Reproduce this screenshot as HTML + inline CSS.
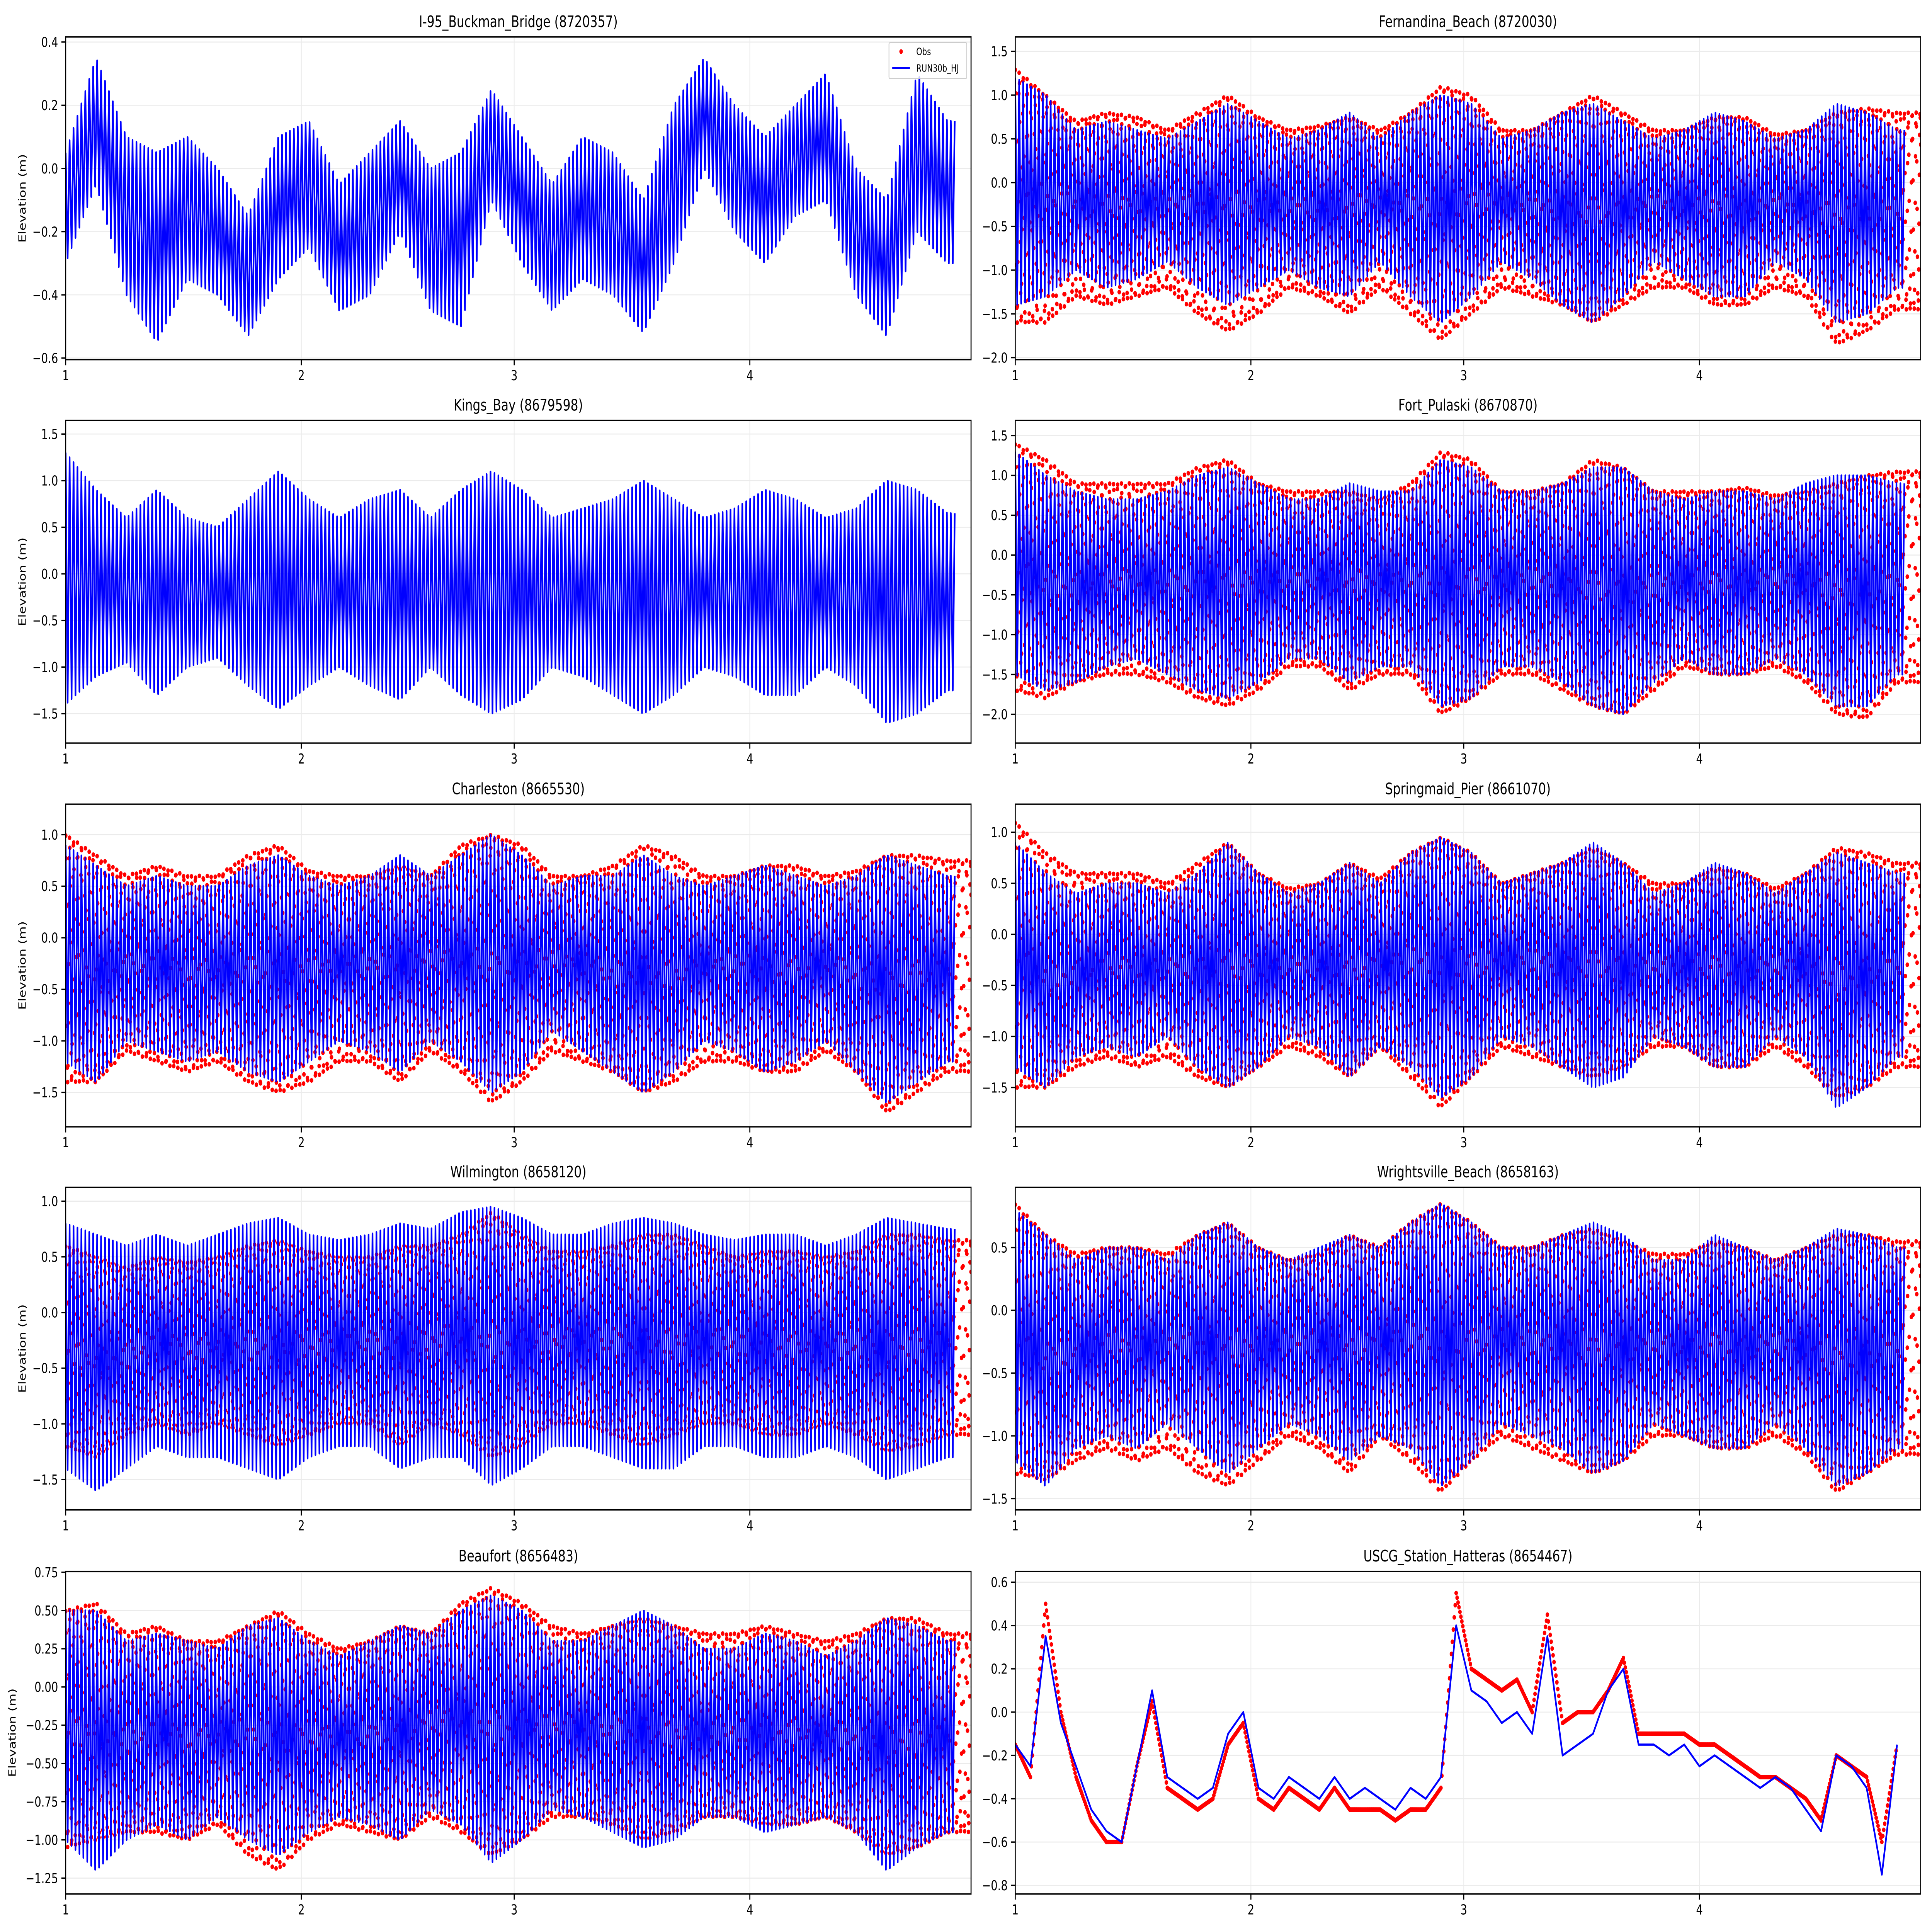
<!DOCTYPE html>
<html><head><meta charset="utf-8">
<style>
html,body{margin:0;padding:0;background:#fff;width:100%;height:100%;overflow:hidden;}
svg{display:block;width:100vw;height:100vh;font-family:"DejaVu Sans","Liberation Sans",sans-serif;}
</style></head>
<body>
<svg id="fig" xmlns="http://www.w3.org/2000/svg" viewBox="0 0 7650 5850" preserveAspectRatio="none">
<rect x="0" y="0" width="7650" height="5850" fill="#fff"/>
</svg>
<script>
// ---------- data (each tidal entry = high / low water envelope at 4-day spacing, metres) ----------
const xTickDays = [0, 31, 59, 90];
const xTickLabels = ["1", "2", "3", "4"];

const buckmanHi = [0.05,0.35,0.1,0.05,0.1,0.0,-0.15,0.1,0.15,-0.05,0.05,0.15,0.0,0.05,0.25,0.1,-0.05,0.1,0.05,-0.1,0.2,0.35,0.2,0.1,0.2,0.3,0.0,-0.1,0.3,0.15];
const buckmanLo = [-0.3,-0.05,-0.4,-0.55,-0.35,-0.4,-0.53,-0.35,-0.25,-0.45,-0.4,-0.2,-0.45,-0.5,-0.1,-0.3,-0.45,-0.35,-0.4,-0.52,-0.3,0.0,-0.2,-0.3,-0.15,-0.1,-0.4,-0.53,-0.2,-0.3];
const buckmanTicks = [-0.6,-0.4,-0.2,0.0,0.2,0.4];

const kingsHi = [1.3,0.9,0.6,0.9,0.6,0.5,0.8,1.1,0.8,0.6,0.8,0.9,0.6,0.9,1.1,0.9,0.6,0.7,0.8,1.0,0.8,0.6,0.7,0.9,0.8,0.6,0.7,1.0,0.9,0.65];
const kingsLo = [-1.4,-1.1,-0.95,-1.3,-1.0,-0.9,-1.2,-1.45,-1.2,-1.0,-1.2,-1.35,-1.0,-1.3,-1.5,-1.35,-1.0,-1.1,-1.3,-1.5,-1.3,-1.0,-1.1,-1.3,-1.3,-1.0,-1.2,-1.6,-1.5,-1.25];
const kingsTicks = [-1.5,-1.0,-0.5,0.0,0.5,1.0,1.5];

const fernHi = [1.2,1.0,0.6,0.7,0.6,0.5,0.7,0.9,0.7,0.5,0.6,0.8,0.5,0.8,1.0,0.9,0.5,0.6,0.8,0.9,0.7,0.5,0.6,0.8,0.7,0.5,0.6,0.9,0.8,0.6];
const fernLo = [-1.4,-1.3,-1.0,-1.2,-1.1,-0.9,-1.2,-1.4,-1.2,-1.0,-1.2,-1.3,-0.9,-1.3,-1.6,-1.3,-0.9,-1.1,-1.4,-1.6,-1.3,-0.9,-1.1,-1.3,-1.3,-0.9,-1.1,-1.6,-1.5,-1.2];
const fernObsHi = [1.3,1.0,0.7,0.8,0.75,0.6,0.8,1.0,0.75,0.6,0.65,0.75,0.6,0.8,1.1,1.0,0.6,0.6,0.8,1.0,0.8,0.6,0.6,0.75,0.75,0.55,0.6,0.8,0.85,0.8];
const fernObsLo = [-1.6,-1.6,-1.3,-1.4,-1.3,-1.2,-1.5,-1.7,-1.5,-1.2,-1.3,-1.5,-1.2,-1.5,-1.8,-1.5,-1.2,-1.3,-1.4,-1.6,-1.4,-1.2,-1.2,-1.4,-1.4,-1.2,-1.3,-1.85,-1.7,-1.45];
const fernTicks = [-2.0,-1.5,-1.0,-0.5,0.0,0.5,1.0,1.5];

const pulaskiHi = [1.3,1.0,0.8,0.7,0.7,0.8,1.0,1.1,0.9,0.7,0.7,0.9,0.8,0.8,1.2,1.1,0.8,0.8,0.9,1.1,1.1,0.8,0.7,0.8,0.8,0.7,0.9,1.0,1.0,0.9];
const pulaskiLo = [-1.5,-1.7,-1.6,-1.4,-1.3,-1.5,-1.7,-1.8,-1.6,-1.3,-1.3,-1.6,-1.4,-1.4,-1.9,-1.8,-1.4,-1.4,-1.6,-1.9,-2.0,-1.6,-1.3,-1.5,-1.5,-1.3,-1.5,-1.9,-1.9,-1.5];
const pulaskiObsHi = [1.4,1.2,0.9,0.9,0.9,0.9,1.1,1.2,0.9,0.8,0.8,0.8,0.7,0.9,1.3,1.2,0.8,0.8,0.9,1.2,1.1,0.8,0.8,0.8,0.85,0.75,0.8,0.9,1.0,1.05];
const pulaskiObsLo = [-1.7,-1.8,-1.6,-1.5,-1.5,-1.6,-1.8,-1.9,-1.7,-1.4,-1.4,-1.7,-1.5,-1.5,-2.0,-1.8,-1.5,-1.5,-1.7,-1.9,-2.0,-1.7,-1.4,-1.5,-1.5,-1.4,-1.6,-2.0,-2.05,-1.6];
const pulaskiTicks = [-2.0,-1.5,-1.0,-0.5,0.0,0.5,1.0,1.5];

const charHi = [0.9,0.7,0.5,0.6,0.5,0.5,0.7,0.8,0.6,0.5,0.6,0.8,0.6,0.8,1.0,0.8,0.5,0.6,0.6,0.8,0.6,0.5,0.6,0.7,0.6,0.5,0.6,0.8,0.7,0.6];
const charLo = [-1.2,-1.4,-1.0,-1.1,-1.2,-1.1,-1.3,-1.4,-1.2,-1.0,-1.1,-1.3,-1.0,-1.2,-1.5,-1.3,-0.9,-1.1,-1.3,-1.5,-1.3,-1.0,-1.1,-1.3,-1.2,-1.0,-1.3,-1.6,-1.4,-1.2];
const charObsHi = [1.0,0.8,0.6,0.7,0.6,0.6,0.8,0.9,0.65,0.6,0.6,0.7,0.6,0.9,1.0,0.9,0.6,0.6,0.7,0.9,0.8,0.6,0.6,0.7,0.7,0.6,0.65,0.8,0.8,0.75];
const charObsLo = [-1.4,-1.4,-1.1,-1.2,-1.3,-1.2,-1.4,-1.5,-1.4,-1.2,-1.2,-1.4,-1.1,-1.3,-1.6,-1.4,-1.1,-1.2,-1.3,-1.5,-1.4,-1.2,-1.2,-1.3,-1.3,-1.1,-1.3,-1.7,-1.5,-1.3];
const charTicks = [-1.5,-1.0,-0.5,0.0,0.5,1.0];

const springHi = [0.9,0.6,0.4,0.5,0.5,0.4,0.6,0.9,0.6,0.4,0.5,0.7,0.5,0.8,0.95,0.8,0.5,0.6,0.7,0.9,0.7,0.4,0.5,0.7,0.6,0.4,0.6,0.8,0.7,0.6];
const springLo = [-1.3,-1.5,-1.2,-1.1,-1.2,-1.0,-1.3,-1.5,-1.3,-1.0,-1.1,-1.4,-1.1,-1.3,-1.6,-1.4,-1.0,-1.1,-1.3,-1.5,-1.4,-1.0,-1.1,-1.3,-1.3,-1.0,-1.2,-1.7,-1.5,-1.2];
const springObsHi = [1.1,0.8,0.6,0.6,0.6,0.5,0.7,0.9,0.6,0.45,0.5,0.7,0.55,0.8,0.95,0.8,0.5,0.6,0.7,0.85,0.7,0.5,0.5,0.65,0.6,0.45,0.6,0.85,0.8,0.7];
const springObsLo = [-1.5,-1.5,-1.3,-1.2,-1.3,-1.2,-1.4,-1.5,-1.3,-1.1,-1.2,-1.4,-1.1,-1.4,-1.7,-1.4,-1.1,-1.2,-1.3,-1.4,-1.3,-1.1,-1.1,-1.3,-1.3,-1.1,-1.3,-1.6,-1.5,-1.3];
const springTicks = [-1.5,-1.0,-0.5,0.0,0.5,1.0];

const wilmHi = [0.8,0.7,0.6,0.7,0.6,0.7,0.8,0.85,0.7,0.65,0.7,0.8,0.75,0.9,0.95,0.85,0.7,0.7,0.8,0.85,0.8,0.7,0.65,0.7,0.7,0.6,0.7,0.85,0.8,0.75];
const wilmLo = [-1.4,-1.6,-1.4,-1.2,-1.3,-1.3,-1.4,-1.5,-1.3,-1.2,-1.2,-1.4,-1.3,-1.3,-1.55,-1.4,-1.2,-1.2,-1.3,-1.4,-1.4,-1.2,-1.2,-1.3,-1.3,-1.2,-1.3,-1.5,-1.4,-1.3];
const wilmObsHi = [0.6,0.5,0.4,0.5,0.45,0.5,0.6,0.65,0.55,0.5,0.5,0.6,0.6,0.7,0.9,0.7,0.55,0.55,0.6,0.7,0.7,0.6,0.5,0.55,0.55,0.5,0.55,0.7,0.7,0.65];
const wilmObsLo = [-1.2,-1.3,-1.1,-1.0,-1.1,-1.0,-1.1,-1.2,-1.1,-1.0,-1.0,-1.2,-1.0,-1.1,-1.3,-1.2,-1.0,-1.0,-1.1,-1.2,-1.1,-1.0,-1.0,-1.1,-1.1,-1.0,-1.1,-1.25,-1.2,-1.1];
const wilmTicks = [-1.5,-1.0,-0.5,0.0,0.5,1.0];

const wrightHi = [0.8,0.6,0.4,0.5,0.5,0.4,0.6,0.7,0.5,0.4,0.5,0.6,0.5,0.7,0.85,0.7,0.5,0.5,0.6,0.7,0.6,0.4,0.4,0.6,0.5,0.4,0.5,0.65,0.6,0.5];
const wrightLo = [-1.2,-1.4,-1.1,-1.0,-1.1,-0.9,-1.1,-1.3,-1.1,-0.9,-1.0,-1.2,-1.0,-1.1,-1.4,-1.2,-0.9,-1.0,-1.1,-1.3,-1.2,-0.9,-1.0,-1.1,-1.1,-0.9,-1.1,-1.4,-1.3,-1.1];
const wrightObsHi = [0.85,0.6,0.45,0.5,0.5,0.45,0.6,0.7,0.5,0.4,0.45,0.6,0.5,0.7,0.85,0.7,0.5,0.5,0.6,0.65,0.55,0.45,0.45,0.55,0.5,0.4,0.5,0.6,0.6,0.55];
const wrightObsLo = [-1.3,-1.35,-1.2,-1.1,-1.2,-1.1,-1.3,-1.4,-1.2,-1.0,-1.1,-1.3,-1.0,-1.2,-1.45,-1.2,-1.0,-1.1,-1.2,-1.3,-1.2,-1.0,-1.0,-1.1,-1.1,-1.0,-1.15,-1.45,-1.3,-1.15];
const wrightTicks = [-1.5,-1.0,-0.5,0.0,0.5];

const beauHi = [0.5,0.5,0.3,0.35,0.3,0.25,0.4,0.45,0.3,0.2,0.3,0.4,0.35,0.5,0.6,0.5,0.3,0.3,0.4,0.5,0.4,0.25,0.25,0.35,0.3,0.2,0.3,0.45,0.4,0.3];
const beauLo = [-1.0,-1.2,-1.0,-0.9,-1.0,-0.85,-1.0,-1.1,-0.95,-0.85,-0.9,-1.0,-0.8,-0.9,-1.15,-1.0,-0.8,-0.85,-0.95,-1.05,-1.0,-0.85,-0.85,-0.95,-0.9,-0.85,-0.95,-1.2,-1.05,-0.95];
const beauObsHi = [0.5,0.55,0.35,0.4,0.3,0.3,0.4,0.5,0.35,0.25,0.3,0.4,0.35,0.55,0.65,0.55,0.4,0.35,0.4,0.45,0.4,0.35,0.35,0.4,0.35,0.3,0.35,0.45,0.45,0.35];
const beauObsLo = [-1.05,-1.0,-0.95,-0.95,-1.0,-0.9,-1.1,-1.2,-1.0,-0.9,-0.95,-1.0,-0.85,-0.95,-1.1,-1.0,-0.85,-0.85,-0.9,-1.0,-0.95,-0.85,-0.85,-0.9,-0.9,-0.85,-0.95,-1.1,-1.05,-0.95];
const beauTicks = [-1.25,-1.0,-0.75,-0.5,-0.25,0.0,0.25,0.5,0.75];

// Hatteras: one value every 2 days
const hatModel = [-0.15,-0.25,0.35,-0.05,-0.25,-0.45,-0.55,-0.6,-0.25,0.1,-0.3,-0.35,-0.4,-0.35,-0.1,0.0,-0.35,-0.4,-0.3,-0.35,-0.4,-0.3,-0.4,-0.35,-0.4,-0.45,-0.35,-0.4,-0.3,0.4,0.1,0.05,-0.05,0.0,-0.1,0.35,-0.2,-0.15,-0.1,0.1,0.2,-0.15,-0.15,-0.2,-0.15,-0.25,-0.2,-0.25,-0.3,-0.35,-0.3,-0.35,-0.45,-0.55,-0.2,-0.25,-0.35,-0.75,-0.15];
const hatObs = [-0.15,-0.3,0.5,0.0,-0.3,-0.5,-0.6,-0.6,-0.25,0.05,-0.35,-0.4,-0.45,-0.4,-0.15,-0.05,-0.4,-0.45,-0.35,-0.4,-0.45,-0.35,-0.45,-0.45,-0.45,-0.5,-0.45,-0.45,-0.35,0.55,0.2,0.15,0.1,0.15,0.0,0.45,-0.05,0.0,0.0,0.1,0.25,-0.1,-0.1,-0.1,-0.1,-0.15,-0.15,-0.2,-0.25,-0.3,-0.3,-0.35,-0.4,-0.5,-0.2,-0.25,-0.3,-0.6,-0.15];
const hatTicks = [-0.8,-0.6,-0.4,-0.2,0.0,0.2,0.4,0.6];

// ---------- layout ----------
const NS = "http://www.w3.org/2000/svg";
const svg = document.getElementById("fig");
const AX_W = 3585, AX_H = 977, DAYS = 119.1;
const COLS = [260, 4020];
const ROWS = [112, 1273, 2435, 3595, 4758];
const PERIOD = 0.5175;
const STEP = 4;

function fmt(v, dec) {
  const s = Math.abs(v).toFixed(dec);
  return (v < 0 ? "\u2212" : "") + s;
}
function env(arr, t) {
  const f = t / STEP;
  const i = Math.max(0, Math.min(arr.length - 1, Math.floor(f)));
  const j = Math.min(arr.length - 1, i + 1);
  const w = Math.max(0, Math.min(1, f - i));
  return arr[i] + (arr[j] - arr[i]) * w;
}

function drawPanel(cfg) {
  const L = COLS[cfg.col], T = ROWS[cfg.row];
  const xs = d => L + d / DAYS * AX_W;
  const ys = v => T + (cfg.ymax - v) / (cfg.ymax - cfg.ymin) * AX_H;

  const g = document.createElementNS(NS, "g");
  
  
  svg.appendChild(g);

  const clip = document.createElementNS(NS, "clipPath");
  clip.setAttribute("id", "clip-" + cfg.name);
  const cr = document.createElementNS(NS, "rect");
  cr.setAttribute("x", L); cr.setAttribute("y", T); cr.setAttribute("width", AX_W); cr.setAttribute("height", AX_H);
  clip.appendChild(cr);
  g.appendChild(clip);

  cfg.ticks.forEach(v => {
    const ln = document.createElementNS(NS, "line");
    
    
    ln.setAttribute("x1", L); ln.setAttribute("x2", L + AX_W);
    ln.setAttribute("y1", ys(v)); ln.setAttribute("y2", ys(v));
    ln.setAttribute("stroke", "#ebebeb"); ln.setAttribute("stroke-width", 3);
    g.appendChild(ln);
  });
  xTickDays.forEach(d => {
    const ln = document.createElementNS(NS, "line");
    
    
    ln.setAttribute("x1", xs(d)); ln.setAttribute("x2", xs(d));
    ln.setAttribute("y1", T); ln.setAttribute("y2", T + AX_H);
    ln.setAttribute("stroke", "#ebebeb"); ln.setAttribute("stroke-width", 3);
    g.appendChild(ln);
  });

  const dataG = document.createElementNS(NS, "g");
  
  
  dataG.setAttribute("clip-path", "url(#clip-" + cfg.name + ")");
  g.appendChild(dataG);

  if (cfg.obsHi) {
    for (let t = 0.01; t <= DAYS; t += 1 / 24) {
      const oh = env(cfg.obsHi, t), ol = env(cfg.obsLo, t);
      const v = (oh + ol) / 2 + (oh - ol) / 2 * Math.cos(2 * Math.PI * t / PERIOD);
      const c = document.createElementNS(NS, "circle");
      
      
      c.setAttribute("cx", xs(t).toFixed(1));
      c.setAttribute("cy", ys(v).toFixed(1));
      c.setAttribute("r", 7);
      c.setAttribute("fill", "#ff0000");
      dataG.appendChild(c);
    }
  }
  if (cfg.hatObs) {
    for (let i = 0; i < cfg.hatObs.length - 1; i++) {
      for (let j = 0; j < 16; j++) {
        const f = j / 16;
        const c = document.createElementNS(NS, "circle");
        
        
        c.setAttribute("cx", xs(2 * (i + f)).toFixed(1));
        c.setAttribute("cy", ys(cfg.hatObs[i] + (cfg.hatObs[i + 1] - cfg.hatObs[i]) * f).toFixed(1));
        c.setAttribute("r", 7);
        c.setAttribute("fill", "#ff0000");
        dataG.appendChild(c);
      }
    }
  }

  let d = "";
  if (cfg.hi) {
    let n = 0;
    for (let t = 0; t <= 117; t += PERIOD / 2, n++) {
      const v = (n % 2 === 0) ? env(cfg.hi, t) : env(cfg.lo, t);
      d += (d ? "L" : "M") + xs(t).toFixed(1) + "," + ys(v).toFixed(1);
    }
  } else if (cfg.hatModel) {
    cfg.hatModel.forEach((v, i) => {
      d += (i ? "L" : "M") + xs(2 * i).toFixed(1) + "," + ys(v).toFixed(1);
    });
  }
  const path = document.createElementNS(NS, "path");
  
  
  path.setAttribute("d", d);
  path.setAttribute("fill", "none");
  path.setAttribute("stroke", "#0000ff");
  path.setAttribute("stroke-width", 6.5);
  path.setAttribute("stroke-linejoin", "round");
  dataG.appendChild(path);

  const fr = document.createElementNS(NS, "rect");
  
  
  fr.setAttribute("x", L); fr.setAttribute("y", T); fr.setAttribute("width", AX_W); fr.setAttribute("height", AX_H);
  fr.setAttribute("fill", "none"); fr.setAttribute("stroke", "#000"); fr.setAttribute("stroke-width", 4);
  g.appendChild(fr);

  cfg.ticks.forEach(v => {
    const tk = document.createElementNS(NS, "line");
    
    
    tk.setAttribute("x1", L - 17); tk.setAttribute("x2", L);
    tk.setAttribute("y1", ys(v)); tk.setAttribute("y2", ys(v));
    tk.setAttribute("stroke", "#000"); tk.setAttribute("stroke-width", 4);
    g.appendChild(tk);
    const tx = document.createElementNS(NS, "text");
    
    
    tx.setAttribute("x", L - 30); tx.setAttribute("y", ys(v) + 15);
    tx.setAttribute("text-anchor", "end"); tx.setAttribute("font-size", 42);
    tx.textContent = fmt(v, cfg.dec);
    g.appendChild(tx);
  });
  xTickDays.forEach((dd, i) => {
    const tk = document.createElementNS(NS, "line");
    
    
    tk.setAttribute("x1", xs(dd)); tk.setAttribute("x2", xs(dd));
    tk.setAttribute("y1", T + AX_H); tk.setAttribute("y2", T + AX_H + 17);
    tk.setAttribute("stroke", "#000"); tk.setAttribute("stroke-width", 4);
    g.appendChild(tk);
    const tx = document.createElementNS(NS, "text");
    
    
    tx.setAttribute("x", xs(dd)); tx.setAttribute("y", T + AX_H + 62);
    tx.setAttribute("text-anchor", "middle"); tx.setAttribute("font-size", 42);
    tx.textContent = xTickLabels[i];
    g.appendChild(tx);
  });
  const ti = document.createElementNS(NS, "text");
  
  
  ti.setAttribute("x", L + AX_W / 2); ti.setAttribute("y", T - 30);
  ti.setAttribute("text-anchor", "middle"); ti.setAttribute("font-size", 48);
  ti.textContent = cfg.title;
  g.appendChild(ti);
  if (cfg.col === 0) {
    const yl = document.createElementNS(NS, "text");
    
    
    const yc = T + AX_H / 2;
    yl.setAttribute("x", 0); yl.setAttribute("y", 0);
    yl.setAttribute("transform", "translate(" + (cfg.dec === 2 ? 62 : 102) + "," + yc + ") rotate(-90)");
    yl.setAttribute("text-anchor", "middle"); yl.setAttribute("font-size", 40);
    yl.textContent = "Elevation (m)";
    g.appendChild(yl);
  }
}

const panels = [
  {name:"buckman", title:"I-95_Buckman_Bridge (8720357)", col:0,row:0, ymin:-0.605,ymax:0.416, ticks:buckmanTicks, dec:1, hi:buckmanHi, lo:buckmanLo},
  {name:"fernandina", title:"Fernandina_Beach (8720030)", col:1,row:0, ymin:-2.023,ymax:1.664, ticks:fernTicks, dec:1, hi:fernHi, lo:fernLo, obsHi:fernObsHi, obsLo:fernObsLo},
  {name:"kings-bay", title:"Kings_Bay (8679598)", col:0,row:1, ymin:-1.816,ymax:1.646, ticks:kingsTicks, dec:1, hi:kingsHi, lo:kingsLo},
  {name:"fort-pulaski", title:"Fort_Pulaski (8670870)", col:1,row:1, ymin:-2.362,ymax:1.691, ticks:pulaskiTicks, dec:1, hi:pulaskiHi, lo:pulaskiLo, obsHi:pulaskiObsHi, obsLo:pulaskiObsLo},
  {name:"charleston", title:"Charleston (8665530)", col:0,row:2, ymin:-1.833,ymax:1.295, ticks:charTicks, dec:1, hi:charHi, lo:charLo, obsHi:charObsHi, obsLo:charObsLo},
  {name:"springmaid", title:"Springmaid_Pier (8661070)", col:1,row:2, ymin:-1.885,ymax:1.275, ticks:springTicks, dec:1, hi:springHi, lo:springLo, obsHi:springObsHi, obsLo:springObsLo},
  {name:"wilmington", title:"Wilmington (8658120)", col:0,row:3, ymin:-1.773,ymax:1.125, ticks:wilmTicks, dec:1, hi:wilmHi, lo:wilmLo, obsHi:wilmObsHi, obsLo:wilmObsLo},
  {name:"wrightsville", title:"Wrightsville_Beach (8658163)", col:1,row:3, ymin:-1.59,ymax:0.98, ticks:wrightTicks, dec:1, hi:wrightHi, lo:wrightLo, obsHi:wrightObsHi, obsLo:wrightObsLo},
  {name:"beaufort", title:"Beaufort (8656483)", col:0,row:4, ymin:-1.354,ymax:0.756, ticks:beauTicks, dec:2, hi:beauHi, lo:beauLo, obsHi:beauObsHi, obsLo:beauObsLo},
  {name:"hatteras", title:"USCG_Station_Hatteras (8654467)", col:1,row:4, ymin:-0.84,ymax:0.65, ticks:hatTicks, dec:1, hatModel:hatModel, hatObs:hatObs}
];
panels.forEach(drawPanel);

const lg = document.createElementNS(NS, "g");


svg.appendChild(lg);
const lbox = document.createElementNS(NS, "rect");


lbox.setAttribute("x", 3520); lbox.setAttribute("y", 129); lbox.setAttribute("width", 308); lbox.setAttribute("height", 109);
lbox.setAttribute("rx", 5); lbox.setAttribute("fill", "#fff"); lbox.setAttribute("fill-opacity", 0.8);
lbox.setAttribute("stroke", "#cccccc"); lbox.setAttribute("stroke-width", 3);
lg.appendChild(lbox);
const ldot = document.createElementNS(NS, "circle");


ldot.setAttribute("cx", 3568); ldot.setAttribute("cy", 156); ldot.setAttribute("r", 7); ldot.setAttribute("fill", "#ff0000");
lg.appendChild(ldot);
const lt1 = document.createElementNS(NS, "text");


lt1.setAttribute("x", 3628); lt1.setAttribute("y", 167); lt1.setAttribute("font-size", 30);
lt1.textContent = "Obs";
lg.appendChild(lt1);
const lline = document.createElementNS(NS, "line");


lline.setAttribute("x1", 3533); lline.setAttribute("x2", 3603); lline.setAttribute("y1", 206); lline.setAttribute("y2", 206);
lline.setAttribute("stroke", "#0000ff"); lline.setAttribute("stroke-width", 6);
lg.appendChild(lline);
const lt2 = document.createElementNS(NS, "text");


lt2.setAttribute("x", 3628); lt2.setAttribute("y", 217); lt2.setAttribute("font-size", 30);
lt2.textContent = "RUN30b_HJ";
lg.appendChild(lt2);
</script>
</body></html>
